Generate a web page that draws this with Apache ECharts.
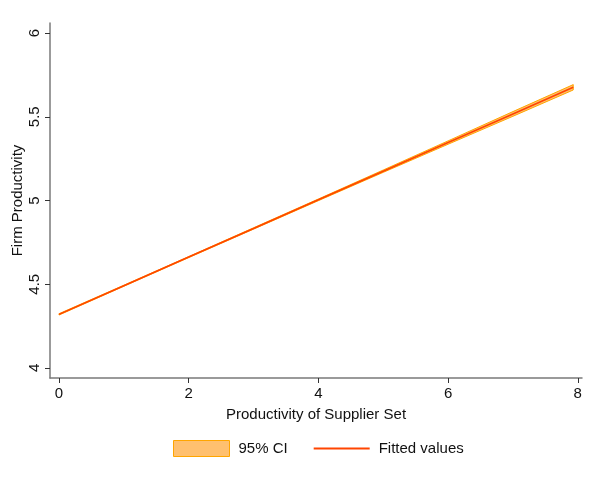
<!DOCTYPE html>
<html>
<head>
<meta charset="utf-8">
<script src="https://cdn.jsdelivr.net/npm/echarts@6/dist/echarts.min.js"></script>
<style>html,body{margin:0;padding:0;background:#fff}#c{width:597px;height:484px}</style>
</head>
<body>
<div id="c"></div>
<script>
var xs = [0, 1, 2, 3, 4, 5, 6, 7, 7.93];
var fitted = [4.320, 4.491, 4.662, 4.833, 5.004, 5.175, 5.346, 5.517, 5.676];
var ciLower = [4.316, 4.488, 4.659, 4.829, 4.999, 5.168, 5.336, 5.503, 5.660];
var ciUpper = [4.324, 4.494, 4.665, 4.837, 5.009, 5.182, 5.356, 5.531, 5.692];
var xTicks = [0, 2, 4, 6, 8];
var yTicks = [4, 4.5, 5, 5.5, 6];

var font = 'Liberation Sans, Arial, sans-serif';
var chart = echarts.init(document.getElementById('c'), null, {renderer: 'canvas'});
chart.setOption({
  animation: false,
  backgroundColor: '#fff',
  grid: {left: 50, top: 23, right: 15, bottom: 106, containLabel: false, outerBoundsMode: 'none'},
  xAxis: {
    type: 'value', min: -0.139, max: 8.065,
    name: 'Productivity of Supplier Set', nameLocation: 'middle', nameGap: 29, nameMoveOverlap: false,
    nameTextStyle: {fontFamily: font, fontSize: 15, color: '#111'},
    axisLine: {show: true, onZero: false, lineStyle: {color: '#7a7a7a', width: 1.5}},
    axisTick: {show: true, length: 5, lineStyle: {color: '#333'}, customValues: xTicks},
    axisLabel: {fontFamily: font, fontSize: 15, color: '#111', margin: 8, customValues: xTicks,
      formatter: function (v) { return String(v); }},
    splitLine: {show: false}
  },
  yAxis: {
    type: 'value', min: 3.94, max: 6.06,
    name: 'Firm Productivity', nameLocation: 'middle', nameGap: 25, nameRotate: 90, nameMoveOverlap: false,
    nameTextStyle: {fontFamily: font, fontSize: 15, color: '#111'},
    axisLine: {show: true, onZero: false, lineStyle: {color: '#7a7a7a', width: 1.5}},
    axisTick: {show: true, length: 5, lineStyle: {color: '#333'}, customValues: yTicks},
    axisLabel: {fontFamily: font, fontSize: 15, color: '#111', rotate: 90, margin: 8, customValues: yTicks,
      formatter: function (v) { return String(v); }},
    splitLine: {show: false}
  },
  legend: {
    top: 440, left: 173, itemGap: 25, itemWidth: 56, itemHeight: 16, padding: 0,
    textStyle: {fontFamily: font, fontSize: 15, color: '#111', padding: [0, 0, 0, 4]},
    data: [
      {name: '95% CI', icon: 'rect', itemStyle: {color: '#FFC06F', borderColor: '#FFA500', borderWidth: 1}},
      {name: 'Fitted values', itemStyle: {opacity: 0}}
    ]
  },
  series: [
    {
      name: '95% CI', type: 'custom',
      data: xs.map(function (x, i) { return [x, ciLower[i]]; }),
      itemStyle: {color: '#FFC06F'},
      renderItem: function (params, api) {
        if (params.dataIndex !== 0) return null;
        var pts = [];
        for (var i = 0; i < xs.length; i++) pts.push(api.coord([xs[i], ciUpper[i]]));
        for (var j = xs.length - 1; j >= 0; j--) pts.push(api.coord([xs[j], ciLower[j]]));
        return {type: 'polygon', shape: {points: pts},
          style: {fill: '#FFC06F', stroke: '#FFA500', lineWidth: 1}};
      },
      z: 1
    },
    {
      name: 'Fitted values', type: 'line', symbol: 'none', showSymbol: false,
      data: xs.map(function (x, i) { return [x, fitted[i]]; }),
      lineStyle: {color: '#FF4500', width: 1.6}, itemStyle: {color: '#FF4500'},
      z: 3
    }
  ]
});
</script>
</body>
</html>
